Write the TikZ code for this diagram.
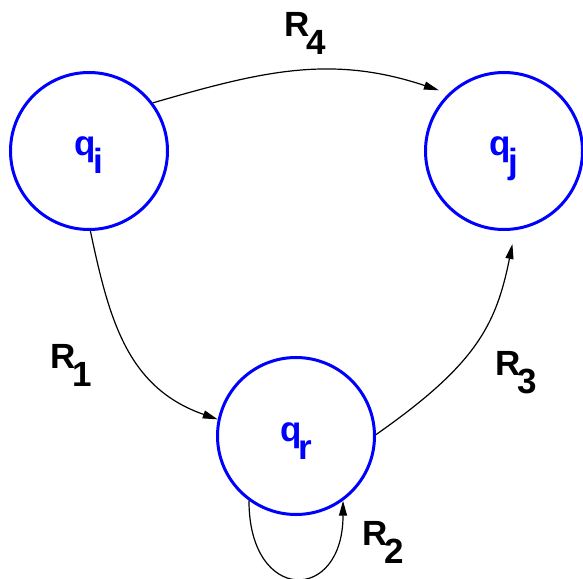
\documentclass[tikz,border=0pt]{standalone}
\usepackage{fontspec}
\setmainfont{Liberation Sans}
\usetikzlibrary{arrows.meta}
\definecolor{stateblue}{HTML}{0000FF}
\definecolor{edgeink}{HTML}{000000}
\newcommand{\sublbl}[2]{#1\kern-3bp\raisebox{-18bp}{#2}}

\begin{document}
\begin{tikzpicture}[
  x=1bp, y=-1bp,
  font=\fontsize{35bp}{40bp}\selectfont\bfseries,
  stnode/.style={draw=stateblue, text=stateblue, circle, line width=3bp, minimum size=157bp, inner sep=0pt, text height=25bp, text depth=15bp},
  trans/.style={-{Triangle[length=15bp, width=8bp]}, draw=edgeink, line width=1.2bp},
  rlbl/.style={anchor=base west, inner sep=0pt, text=edgeink},
]
\useasboundingbox (0,0) rectangle (583,579);
\node[stnode] (qi) at (89,151) {\sublbl{q}{i}};
\node[stnode] (qj) at (504,151) {\sublbl{q}{j}};
\node[stnode] (qr) at (296,436) {\sublbl{q}{r}};
\draw[trans] (qi.-89) .. controls +(19,90) and +(-90,-31.5) .. (qr.168);
\draw[trans] (qr.234) .. controls +(0,103) and +(0,103) .. (qr.306);
\draw[trans, shorten >=14bp] (qr.1) .. controls +(100,-70) and +(-19,95) .. (qj.-82);
\draw[trans, shorten >=10bp] (qi.37) .. controls +(110,-32) and +(-117,-39) .. (qj.134);
\node[rlbl] (r1) at (50,368) {\sublbl{R}{1}};
\node[rlbl] (r2) at (362.5,545) {\sublbl{R}{2}};
\node[rlbl] (r3) at (495,375) {\sublbl{R}{3}};
\node[rlbl] (r4) at (284.5,37) {\sublbl{R}{4}};
\end{tikzpicture}
\end{document}
